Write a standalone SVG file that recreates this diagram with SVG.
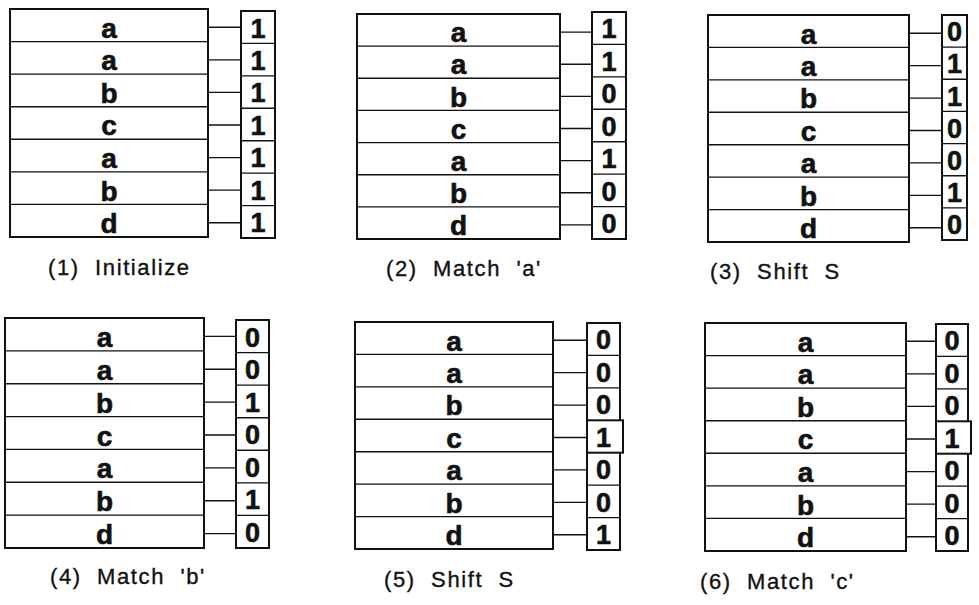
<svg xmlns="http://www.w3.org/2000/svg" width="979" height="605" viewBox="0 0 979 605">
<style>
.frame{fill:#fff;stroke:#111;stroke-width:2}
.div{stroke:#111;stroke-width:1.4;fill:none}
.conn{stroke:#111;stroke-width:1.4;fill:none}
.ch{font-family:"Liberation Sans",Arial,sans-serif;font-weight:bold;font-size:28px;fill:#111;stroke:#111;stroke-width:0.6;text-anchor:middle}
.bit{font-family:"Liberation Sans",Arial,sans-serif;font-weight:bold;font-size:27px;fill:#111;stroke:#111;stroke-width:0.6;text-anchor:middle}
.cap{font-family:"Liberation Sans",Arial,sans-serif;font-size:22px;letter-spacing:1.6px;fill:#111;stroke:#111;stroke-width:0.35}
</style>
<rect width="979" height="605" fill="#fff"/>

<g id="panel1">
 <g id="p1-string">
  <rect class="frame" x="10" y="9" width="198" height="228"/>
  <path class="div" d="M10 41.6H208M10 74.1H208M10 106.7H208M10 139.3H208M10 171.9H208M10 204.4H208"/>
  <text class="ch" x="109" y="37.7">a</text><text class="ch" x="109" y="70.2">a</text><text class="ch" x="109" y="102.8">b</text><text class="ch" x="109" y="135.4">c</text><text class="ch" x="109" y="167.9">a</text><text class="ch" x="109" y="200.5">b</text><text class="ch" x="109" y="233.1">d</text>
 </g>
 <g id="p1-bits">
  <rect class="frame" x="241" y="11" width="34" height="227"/>
  <path class="div" d="M241 43.4H275M241 75.9H275M241 108.3H275M241 140.7H275M241 173.1H275M241 205.6H275"/>
  <text class="bit" x="258" y="37.5">1</text><text class="bit" x="258" y="69.9">1</text><text class="bit" x="258" y="102.4">1</text><text class="bit" x="258" y="134.8">1</text><text class="bit" x="258" y="167.2">1</text><text class="bit" x="258" y="199.6">1</text><text class="bit" x="258" y="232.1">1</text>
 </g>
 <text class="cap" x="48" y="275" xml:space="preserve">(1)  Initialize</text>
</g>

<g id="panel2">
 <g id="p2-string">
  <rect class="frame" x="357" y="14" width="203" height="225"/>
  <path class="div" d="M357 46.1H560M357 78.3H560M357 110.4H560M357 142.6H560M357 174.7H560M357 206.9H560"/>
  <text class="ch" x="458.5" y="42.3">a</text><text class="ch" x="458.5" y="74.4">a</text><text class="ch" x="458.5" y="106.6">b</text><text class="ch" x="458.5" y="138.7">c</text><text class="ch" x="458.5" y="170.9">a</text><text class="ch" x="458.5" y="203">b</text><text class="ch" x="458.5" y="235.1">d</text>
 </g>
 <g id="p2-bits">
  <rect class="frame" x="592" y="12" width="34" height="227"/>
  <path class="div" d="M592 44.4H626M592 76.9H626M592 109.3H626M592 141.7H626M592 174.1H626M592 206.6H626"/>
  <text class="bit" x="609" y="38.4">1</text><text class="bit" x="609" y="70.9">1</text><text class="bit" x="609" y="103.3">0</text><text class="bit" x="609" y="135.7">0</text><text class="bit" x="609" y="168.1">1</text><text class="bit" x="609" y="200.6">0</text><text class="bit" x="609" y="233">0</text>
 </g>
 <text class="cap" x="386" y="276" xml:space="preserve">(2)  Match  'a'</text>
</g>

<g id="panel3">
 <g id="p3-string">
  <rect class="frame" x="708" y="15" width="201" height="227"/>
  <path class="div" d="M708 47.4H909M708 79.9H909M708 112.3H909M708 144.7H909M708 177.1H909M708 209.6H909"/>
  <text class="ch" x="808.5" y="43.5">a</text><text class="ch" x="808.5" y="76">a</text><text class="ch" x="808.5" y="108.4">b</text><text class="ch" x="808.5" y="140.8">c</text><text class="ch" x="808.5" y="173.2">a</text><text class="ch" x="808.5" y="205.7">b</text><text class="ch" x="808.5" y="238.1">d</text>
 </g>
 <g id="p3-bits">
  <rect class="frame" x="942" y="15" width="25" height="225"/>
  <path class="div" d="M942 47.1H967M942 79.3H967M942 111.4H967M942 143.6H967M942 175.7H967M942 207.9H967"/>
  <text class="bit" x="954.5" y="41.2">0</text><text class="bit" x="954.5" y="73.4">1</text><text class="bit" x="954.5" y="105.5">1</text><text class="bit" x="954.5" y="137.6">0</text><text class="bit" x="954.5" y="169.8">0</text><text class="bit" x="954.5" y="201.9">1</text><text class="bit" x="954.5" y="234.1">0</text>
 </g>
 <text class="cap" x="710" y="279" xml:space="preserve">(3)  Shift  S</text>
</g>

<g id="panel4">
 <g id="p4-string">
  <rect class="frame" x="5" y="318" width="199" height="230"/>
  <path class="div" d="M5 350.9H204M5 383.7H204M5 416.6H204M5 449.4H204M5 482.3H204M5 515.1H204"/>
  <text class="ch" x="104.5" y="346.9">a</text><text class="ch" x="104.5" y="379.8">a</text><text class="ch" x="104.5" y="412.6">b</text><text class="ch" x="104.5" y="445.5">c</text><text class="ch" x="104.5" y="478.3">a</text><text class="ch" x="104.5" y="511.2">b</text><text class="ch" x="104.5" y="544">d</text>
 </g>
 <g id="p4-bits">
  <rect class="frame" x="236" y="320" width="33" height="228"/>
  <path class="div" d="M236 352.6H269M236 385.1H269M236 417.7H269M236 450.3H269M236 482.9H269M236 515.4H269"/>
  <text class="bit" x="252.5" y="346.5">0</text><text class="bit" x="252.5" y="379.1">0</text><text class="bit" x="252.5" y="411.6">1</text><text class="bit" x="252.5" y="444.2">0</text><text class="bit" x="252.5" y="476.8">0</text><text class="bit" x="252.5" y="509.4">1</text><text class="bit" x="252.5" y="541.9">0</text>
 </g>
 <text class="cap" x="50" y="584" xml:space="preserve">(4)  Match  'b'</text>
</g>

<g id="panel5">
 <g id="p5-string">
  <rect class="frame" x="355" y="322" width="198" height="227"/>
  <path class="div" d="M355 354.4H553M355 386.9H553M355 419.3H553M355 451.7H553M355 484.1H553M355 516.6H553"/>
  <text class="ch" x="454" y="350.5">a</text><text class="ch" x="454" y="383">a</text><text class="ch" x="454" y="415.4">b</text><text class="ch" x="454" y="447.8">c</text><text class="ch" x="454" y="480.2">a</text><text class="ch" x="454" y="512.7">b</text><text class="ch" x="454" y="545.1">d</text>
 </g>
 <g id="p5-bits">
  <rect class="frame" x="587" y="323" width="33" height="227"/>
  <rect class="frame" x="587" y="420.3" width="36" height="32.4"/>
  <path class="div" d="M587 355.4H620M587 387.9H620M587 485.1H620M587 517.6H620"/>
  <text class="bit" x="603.5" y="349.4">0</text><text class="bit" x="603.5" y="381.9">0</text><text class="bit" x="603.5" y="414.3">0</text><text class="bit" x="603.5" y="446.7">1</text><text class="bit" x="603.5" y="479.1">0</text><text class="bit" x="603.5" y="511.6">0</text><text class="bit" x="603.5" y="544">1</text>
 </g>
 <text class="cap" x="384" y="587" xml:space="preserve">(5)  Shift  S</text>
</g>

<g id="panel6">
 <g id="p6-string">
  <rect class="frame" x="705" y="323" width="201" height="228"/>
  <path class="div" d="M705 355.6H906M705 388.1H906M705 420.7H906M705 453.3H906M705 485.9H906M705 518.4H906"/>
  <text class="ch" x="805.5" y="351.7">a</text><text class="ch" x="805.5" y="384.2">a</text><text class="ch" x="805.5" y="416.8">b</text><text class="ch" x="805.5" y="449.4">c</text><text class="ch" x="805.5" y="482">a</text><text class="ch" x="805.5" y="514.5">b</text><text class="ch" x="805.5" y="547.1">d</text>
 </g>
 <g id="p6-bits">
  <rect class="frame" x="936" y="324" width="32" height="227"/>
  <rect class="frame" x="936" y="421.3" width="35" height="32.4"/>
  <path class="div" d="M936 356.4H968M936 388.9H968M936 486.1H968M936 518.6H968"/>
  <text class="bit" x="952" y="350.4">0</text><text class="bit" x="952" y="382.9">0</text><text class="bit" x="952" y="415.3">0</text><text class="bit" x="952" y="447.7">1</text><text class="bit" x="952" y="480.1">0</text><text class="bit" x="952" y="512.6">0</text><text class="bit" x="952" y="545">0</text>
 </g>
 <text class="cap" x="700" y="589" xml:space="preserve">(6)  Match  'c'</text>
</g>

<g id="connectors">
 <path class="conn" d="M208 27.3H241M208 59.9H241M208 92.4H241M208 125H241M208 157.6H241M208 190.1H241M208 222.7H241"/>
 <path class="conn" d="M560 32.1H592M560 64.2H592M560 96.4H592M560 128.5H592M560 160.6H592M560 192.8H592M560 224.9H592"/>
 <path class="conn" d="M909 33.2H942M909 65.6H942M909 98.1H942M909 130.5H942M909 162.9H942M909 195.4H942M909 227.8H942"/>
 <path class="conn" d="M204 336.4H236M204 369.3H236M204 402.1H236M204 435H236M204 467.9H236M204 500.7H236M204 533.6H236"/>
 <path class="conn" d="M553 340.2H587M553 372.6H587M553 405.1H587M553 437.5H587M553 469.9H587M553 502.4H587M553 534.8H587"/>
 <path class="conn" d="M906 341.3H936M906 373.9H936M906 406.4H936M906 439H936M906 471.6H936M906 504.1H936M906 536.7H936"/>
</g>
</svg>
